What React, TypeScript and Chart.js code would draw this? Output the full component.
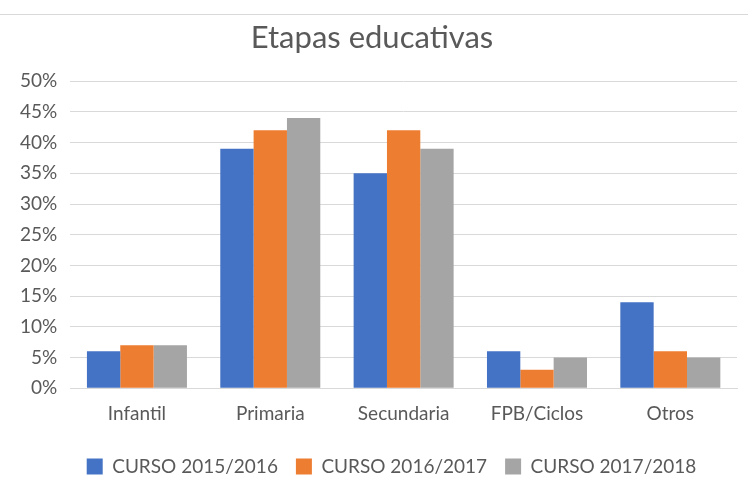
import React, { useEffect, useRef } from "react";
import { Chart, registerables } from "chart.js";

Chart.register(...registerables);

const categories = ["Infantil", "Primaria", "Secundaria", "FPB/Ciclos", "Otros"];
const seriesNames = ["CURSO 2015/2016", "CURSO 2016/2017", "CURSO 2017/2018"];
const curso2015 = [6, 39, 35, 6, 14];
const curso2016 = [7, 42, 42, 3, 6];
const curso2017 = [7, 44, 39, 5, 5];
const colors = ["#4472C4", "#ED7D31", "#A5A5A5"];
const FONT = "Lato, 'Open Sans', sans-serif";

const shiftLegend = {
  id: "shiftLegend",
  afterLayout(chart: any) {
    const lg = chart.legend;
    if (lg) {
      lg.left = 46;
    }
  },
};

export default function App() {
  const ref = useRef<HTMLCanvasElement | null>(null);
  useEffect(() => {
    document.body.style.margin = "0";
    const values = [curso2015, curso2016, curso2017];
    const chart = new Chart(ref.current!, {
      type: "bar",
      data: {
        labels: categories,
        datasets: seriesNames.map((n, i) => ({
          label: n,
          data: values[i],
          backgroundColor: colors[i],
          categoryPercentage: 0.75,
          barPercentage: 1,
        })),
      },
      plugins: [shiftLegend],
      options: {
        animation: false,
        responsive: false,
        layout: { padding: { top: 19, left: 7, right: 11, bottom: 6 } },
        plugins: {
          tooltip: { enabled: false },
          title: {
            display: true,
            text: "Etapas educativas",
            color: "#595959",
            font: { family: FONT, size: 31, weight: "normal" },
            padding: { top: 0, bottom: 25 },
          },
          legend: {
            position: "bottom",
            labels: {
              color: "#595959",
              font: { family: FONT, size: 19 },
              boxWidth: 16,
              boxHeight: 16,
              padding: 18,
            },
          },
        },
        scales: {
          x: {
            grid: { display: false, drawTicks: false },
            border: { color: "#D9D9D9" },
            ticks: { color: "#595959", font: { family: FONT, size: 19 }, padding: 14 },
          },
          y: {
            min: 0,
            max: 50,
            grid: { color: "#D9D9D9", drawTicks: false },
            border: { display: false },
            ticks: {
              stepSize: 5,
              color: "#595959",
              font: { family: FONT, size: 19 },
              padding: 13,
              callback: (v: any) => v + "%",
            },
          },
        },
      },
    });
    return () => chart.destroy();
  }, []);
  return (
    <div style={{ position: "relative", width: 748, height: 492, background: "#fff" }}>
      <div style={{ position: "absolute", left: 0, top: 14, width: 748, borderTop: "1px solid #D9D9D9" }} />
      <canvas ref={ref} width={748} height={492} style={{ display: "block" }} />
    </div>
  );
}
